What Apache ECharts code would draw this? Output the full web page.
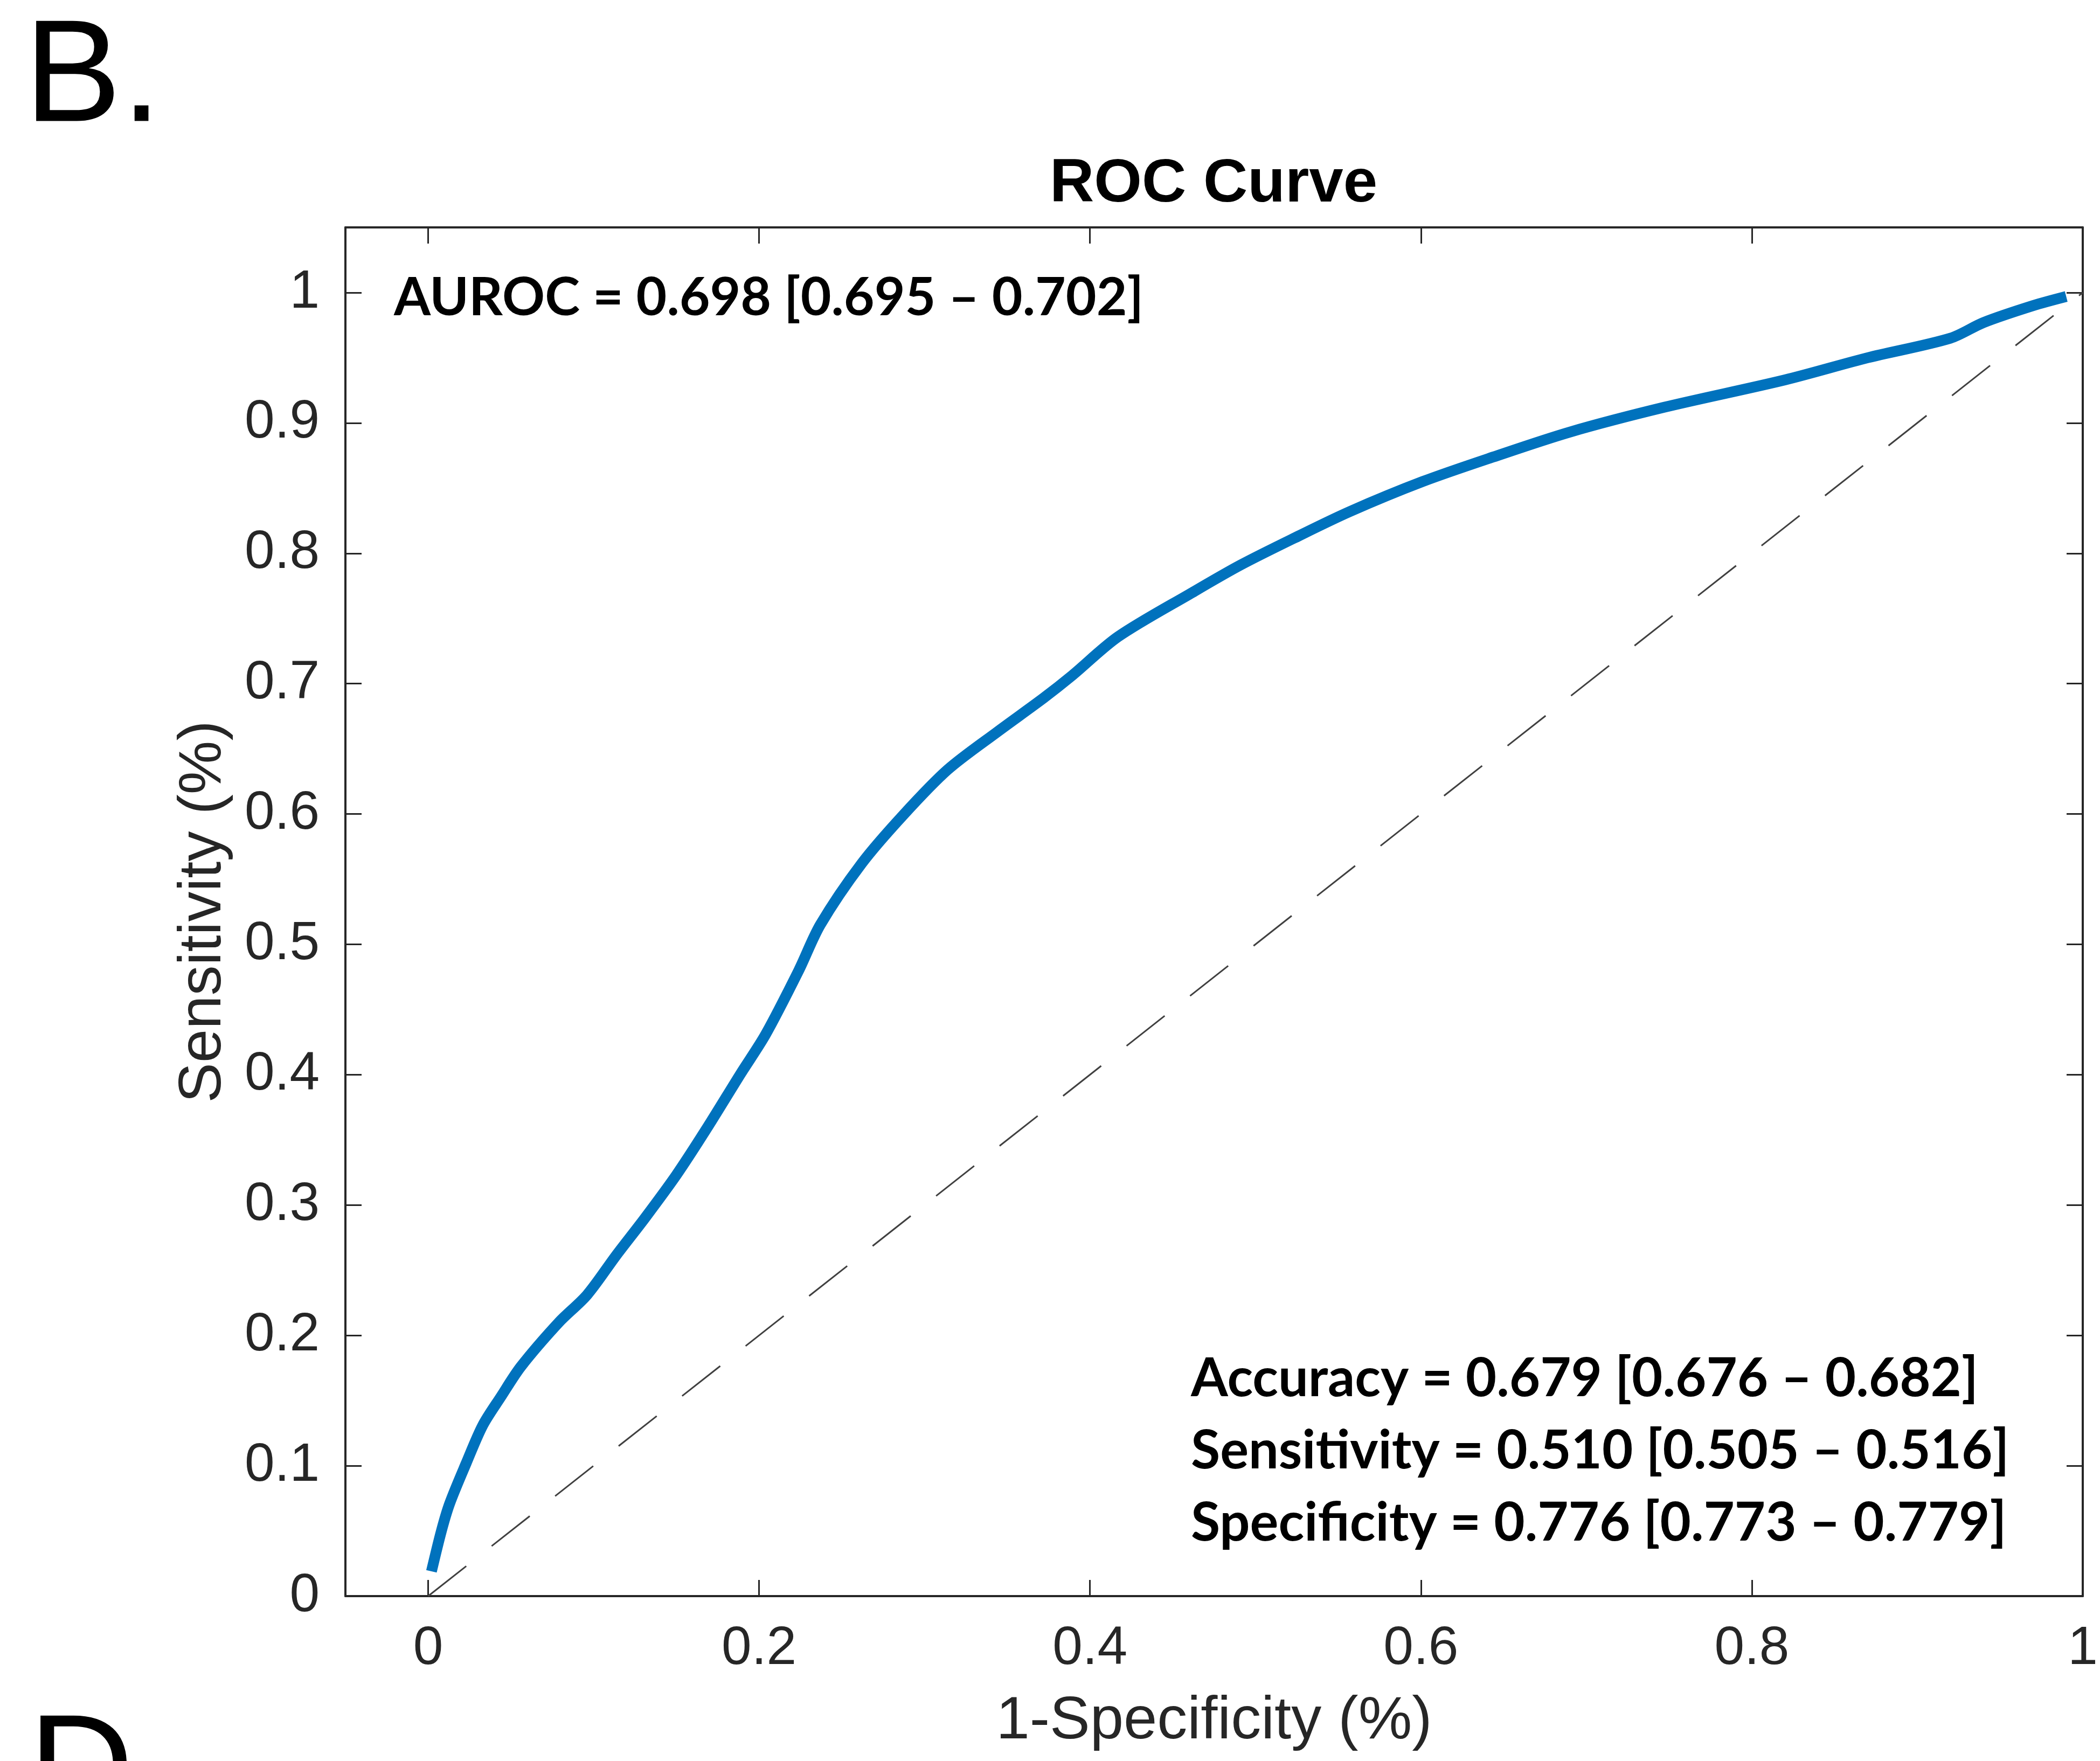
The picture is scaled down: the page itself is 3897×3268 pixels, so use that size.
<!DOCTYPE html>
<html><head><meta charset="utf-8">
<script src="https://cdn.jsdelivr.net/npm/echarts@6/dist/echarts.min.js"></script>
<style>html,body{margin:0;padding:0;background:#fff}#chart{width:3897px;height:3268px}</style>
</head><body><div id="chart"></div>
<script>
// ROC curve points
const fpr = [0.002,0.008,0.013,0.023,0.033,0.044,0.056,0.079,0.096,0.114,0.131,0.150,0.168,0.189,0.204,0.224,0.237,0.262,0.287,0.314,0.344,0.372,0.389,0.417,0.462,0.491,0.524,0.557,0.601,0.644,0.690,0.747,0.820,0.870,0.920,0.940,0.970,0.990];
const tpr = [0.019,0.050,0.071,0.102,0.131,0.153,0.176,0.210,0.231,0.262,0.290,0.323,0.358,0.401,0.431,0.480,0.515,0.562,0.599,0.634,0.663,0.689,0.706,0.736,0.770,0.791,0.812,0.832,0.855,0.874,0.893,0.912,0.933,0.950,0.965,0.977,0.990,0.997];
// chance line
const chanceX = [0, 1];
const chanceY = [0, 1];
// ticks
const xTicks = [0, 0.2, 0.4, 0.6, 0.8, 1];
const xTickLabels = ['0', '0.2', '0.4', '0.6', '0.8', '1'];
const yTicks = [0, 0.1, 0.2, 0.3, 0.4, 0.5, 0.6, 0.7, 0.8, 0.9, 1];
const yTickLabels = ['0', '0.1', '0.2', '0.3', '0.4', '0.5', '0.6', '0.7', '0.8', '0.9', '1'];
// texts
const panelLabel = 'B.';
const nextPanelLabel = 'D.';
const titleText = 'ROC Curve';
const xName = '1-Specificity (%)';
const yName = 'Sensitivity (%)';
const aurocText = 'AUROC = 0.698 [0.695 \u2013 0.702]';
const metricLines = [
  'Accuracy = 0.679 [0.676 \u2013 0.682]',
  'Sensitivity = 0.510 [0.505 \u2013 0.516]',
  'Specificity = 0.776 [0.773 \u2013 0.779]'
];

const AX = '#262626';
const tickFont = 'Liberation Sans';
const chart = echarts.init(document.getElementById('chart'), null, {renderer: 'canvas'});

const rocData = fpr.map((x, i) => [x, tpr[i]]);
const chanceData = chanceX.map((x, i) => [x, chanceY[i]]);

function xFmt(v) { const i = xTicks.findIndex(t => Math.abs(t - v) < 1e-9); return i >= 0 ? xTickLabels[i] : ''; }
function yFmt(v) { const i = yTicks.findIndex(t => Math.abs(t - v) < 1e-9); return i >= 0 ? yTickLabels[i] : ''; }

const baseX = {
  type: 'value', min: -0.05, max: 1.0,
  axisLine: {show: true, onZero: false, lineStyle: {color: AX, width: 4}},
  axisTick: {show: true, inside: true, length: 30, lineStyle: {color: AX, width: 3}, customValues: xTicks},
  splitLine: {show: false}
};
const baseY = {
  type: 'value', min: 0, max: 1.05,
  axisLine: {show: true, onZero: false, lineStyle: {color: AX, width: 4}},
  axisTick: {show: true, inside: true, length: 30, lineStyle: {color: AX, width: 3}, customValues: yTicks},
  splitLine: {show: false}
};

const metricsGraphics = metricLines.map((t, i) => ({
  type: 'text', x: 2210, y: 2559 + i * 134,
  style: {text: t, font: 'bold 99px Lato', fill: '#000', textAlign: 'left', textVerticalAlign: 'middle'}
}));

chart.setOption({
  animation: false,
  backgroundColor: '#fff',
  grid: {left: 641, top: 422, width: 3224, height: 2540, outerBoundsMode: 'none', containLabel: false},
  xAxis: [
    Object.assign({}, baseX, {
      position: 'bottom',
      name: xName, nameLocation: 'middle', nameGap: 177,
      nameTextStyle: {fontFamily: tickFont, fontSize: 112, color: AX},
      axisLabel: {show: true, margin: 48, fontFamily: tickFont, fontSize: 100, color: AX, customValues: xTicks, formatter: xFmt}
    }),
    Object.assign({}, baseX, {position: 'top', axisLabel: {show: false}})
  ],
  yAxis: [
    Object.assign({}, baseY, {
      position: 'left',
      name: yName, nameLocation: 'middle', nameGap: 207, nameRotate: 90,
      nameTextStyle: {fontFamily: tickFont, fontSize: 112, color: AX},
      axisLabel: {show: true, margin: 48, fontFamily: tickFont, fontSize: 100, color: AX, customValues: yTicks, formatter: yFmt}
    }),
    Object.assign({}, baseY, {position: 'right', axisLabel: {show: false}})
  ],
  series: [
    {
      type: 'line', xAxisIndex: 0, yAxisIndex: 0, data: chanceData,
      showSymbol: false, symbol: 'none',
      lineStyle: {color: '#404040', width: 3, type: [90, 60]},
      z: 2, silent: true
    },
    {
      type: 'line', xAxisIndex: 0, yAxisIndex: 0, data: rocData,
      showSymbol: false, symbol: 'none', smooth: 0.3,
      lineStyle: {color: '#0072BD', width: 20},
      z: 3, silent: true
    }
  ],
  graphic: [
    {type: 'text', x: 45, y: 150, style: {text: panelLabel, font: '270px Liberation Sans', fill: '#000', textAlign: 'left', textVerticalAlign: 'middle'}},
    {type: 'text', x: 53, y: 3295, style: {text: nextPanelLabel, font: '270px Liberation Sans', fill: '#000', textAlign: 'left', textVerticalAlign: 'middle'}},
    {type: 'text', x: 2252, y: 343, style: {text: titleText, font: 'bold 114px Liberation Sans', fill: '#000', textAlign: 'center', textVerticalAlign: 'middle'}},
    {type: 'text', x: 731, y: 553, style: {text: aurocText, font: 'bold 98px Lato', fill: '#000', textAlign: 'left', textVerticalAlign: 'middle'}}
  ].concat(metricsGraphics)
});
</script></body></html>
